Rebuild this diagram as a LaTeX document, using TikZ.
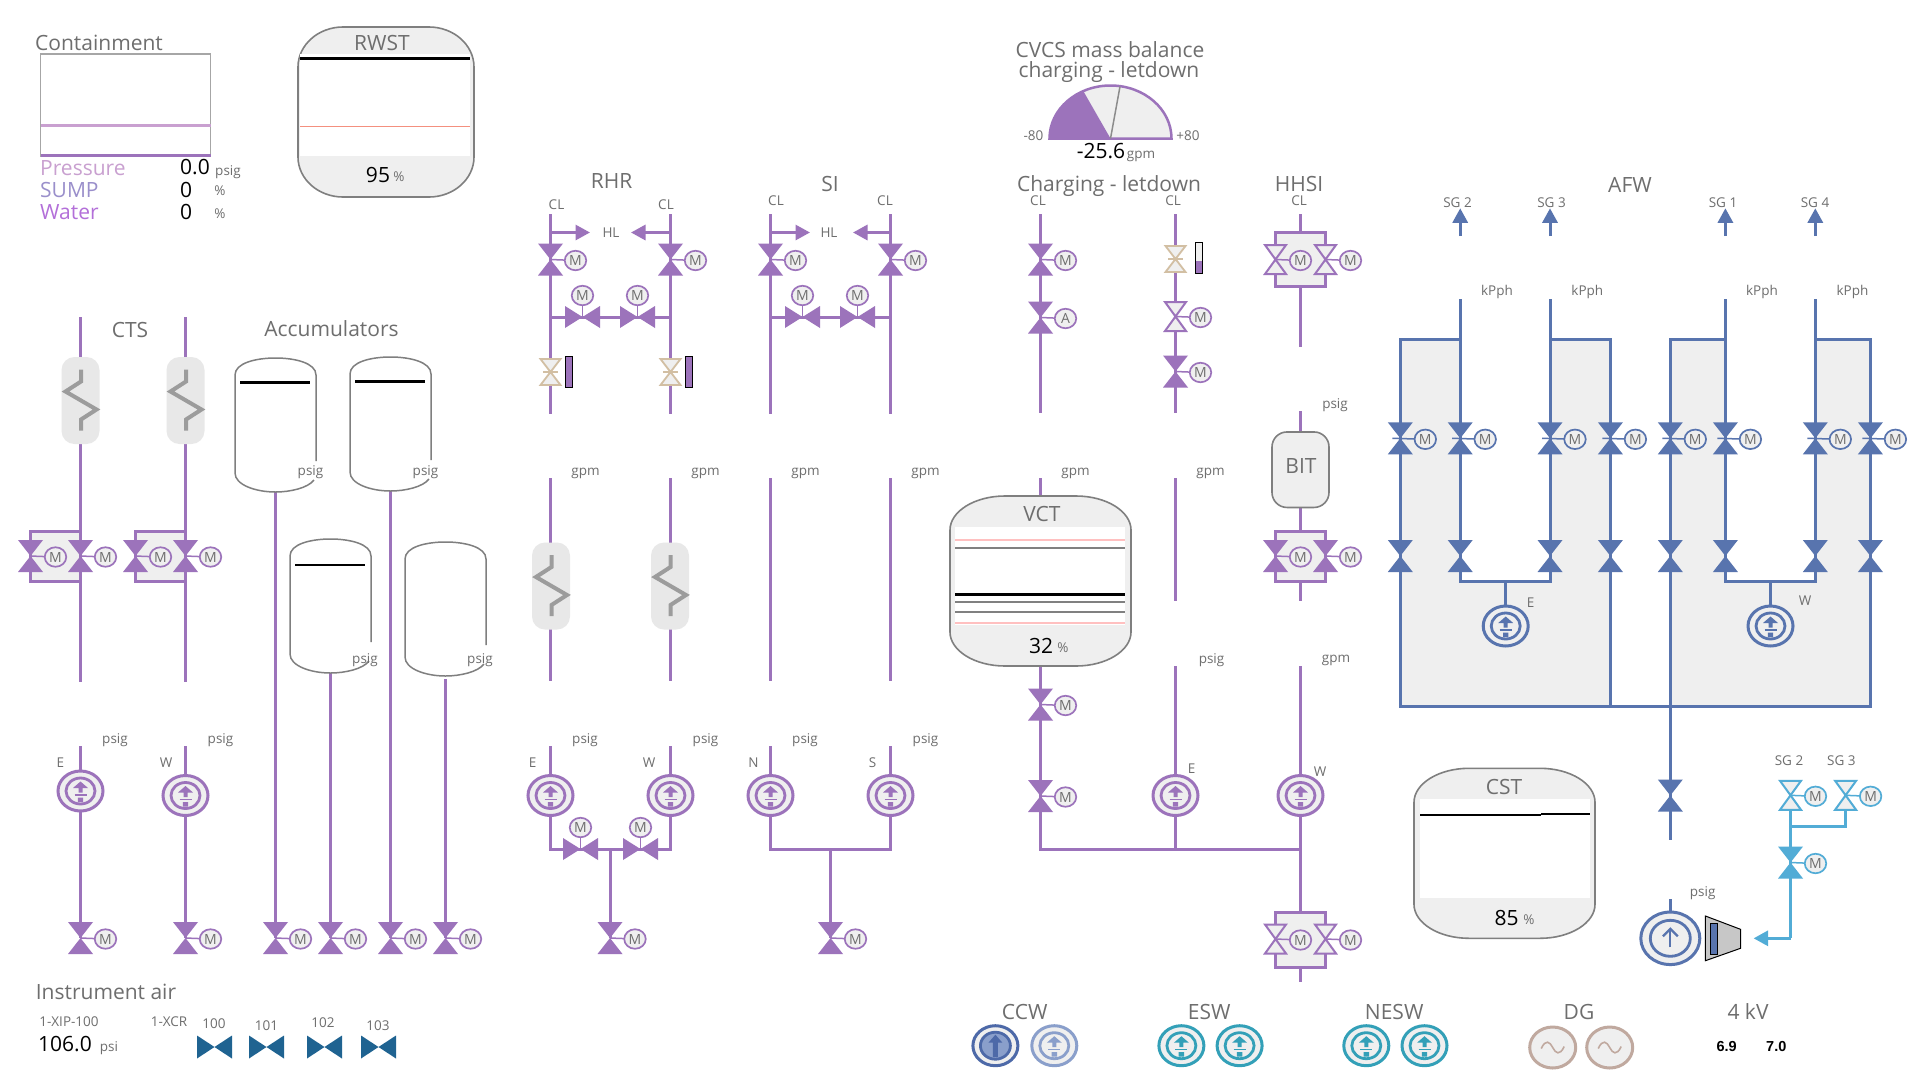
\documentclass[tikz,border=0pt]{standalone}
\usepackage{fontspec}
\setmainfont{Open Sans}
\newfontfamily\arialf{Liberation Sans}
\usetikzlibrary{shapes.geometric,arrows.meta,calc}
\definecolor{pur}{HTML}{9C73BB}
\definecolor{blu}{HTML}{5874AE}
\definecolor{sky}{HTML}{52ACD6}
\definecolor{tea}{HTML}{33A0B8}
\definecolor{dkb}{HTML}{4D69A8}
\definecolor{ltb}{HTML}{8A9FCB}
\definecolor{vgray}{HTML}{EFEFEF}
\definecolor{txt}{HTML}{6E6E6E}
\definecolor{tk}{HTML}{7F7F7F}
\definecolor{bge}{HTML}{D2BFA3}
\definecolor{brn}{HTML}{C0A99F}
\definecolor{bow}{HTML}{1F6391}
\definecolor{lpr}{HTML}{C9A0D0}
\definecolor{lsu}{HTML}{9A8FCB}
\definecolor{lwa}{HTML}{B36FD9}
\definecolor{salm}{HTML}{F4907F}
\definecolor{pnk}{HTML}{FFC0C0}
\tikzset{
 big/.style={text=txt,font=\fontsize{21}{24}\selectfont,inner sep=0pt},
 sm/.style={text=txt,font=\fontsize{13.5}{15}\selectfont,inner sep=0pt},
 val/.style={text=black,font=\fontsize{21}{24}\selectfont,inner sep=0pt},
 pp/.style={draw=pur,line width=3pt},
 bp/.style={draw=blu,line width=3pt},
 sp/.style={draw=sky,line width=3pt},
 mot/.style={ellipse,draw=#1,fill=vgray,line width=1.7pt,minimum width=21.5pt,minimum height=19.5pt,inner sep=0pt,outer sep=0pt,text=txt,font=\fontsize{14}{15}\selectfont},
 hxp/.style={rectangle,rounded corners=13pt,fill=black!9,minimum width=38pt,minimum height=87pt,inner sep=0pt},
 tank/.style={draw=tk,line width=1.6pt,fill=vgray},
 acc/.style={draw=tk,line width=1.5pt},
 arrh/.style={-{Triangle[length=14.5pt,width=15pt]}},
}
% valves
\newcommand{\vlvF}[2]{\fill[#1,shift={(#2)}] (-12.5,-16)--(12.5,-16)--(0,0)--cycle (-12.5,16)--(12.5,16)--(0,0)--cycle;}
\newcommand{\vlvO}[2]{\draw[draw=#1,fill=vgray,line width=2pt,shift={(#2)}] (-10.5,-14.5)--(10.5,-14.5)--(0,0)--(10.5,14.5)--(-10.5,14.5)--(0,0)--cycle;}
\newcommand{\vlvB}[1]{\draw[draw=bge,fill=vgray,line width=1.8pt,shift={(#1)}] (-10,-13)--(10,-13)--(0,0)--(10,13)--(-10,13)--(0,0)--cycle;
 \draw[draw=bge,line width=2pt,shift={(#1)}] (-7.5,0)--(7.5,0);}
\newcommand{\mtr}[3]{\node[mot=#1] (#2m) at ($(#2)+(25,1)$) {#3}; \draw[#1,line width=1.5pt] (#2) -- (#2m);}
\newcommand{\vm}[2]{\vlvF{#1}{#2}\mtr{#1}{#2}{M}}
\newcommand{\vo}[2]{\vlvO{#1}{#2}\mtr{#1}{#2}{M}}
\newcommand{\vma}[2]{\vlvF{#1}{#2}\node[mot=#1] (#2m) at ($(#2)+(25,1)$) {M}; \draw[#1,line width=1.5pt] ($(#2)+(-8,0)$) -- (#2m);}
\newcommand{\hvlv}[2]{\fill[#1,shift={(#2)}] (-17.5,-11)--(-17.5,11)--(0,0)--cycle (17.5,-11)--(17.5,11)--(0,0)--cycle;
 \node[mot=#1] (#2m) at ($(#2)+(0,-21.5)$) {M}; \draw[#1,line width=1.5pt] (#2) -- (#2m);}
% pumps
\newcommand{\pring}[4]{\node[ellipse,draw=#1,fill=vgray,line width=3pt,minimum width=#3pt,minimum height=#4pt,inner sep=0pt,outer sep=0pt] (#2) at (#2c) {};}
\newcommand{\pmp}[2]{\pring{#1}{#2}{45}{40}
 \draw[#1,line width=2.8pt,shift={(#2c)}] (0,0) ellipse[x radius=14.5pt,y radius=13pt];
 \fill[#1,shift={(#2c)}] (0,-9.5)--(7.5,-3)--(2,-3)--(2,1.5)--(-2,1.5)--(-2,-3)--(-7.5,-3)--cycle (-2.7,6.5) rectangle (2.7,11);
 \draw[#1,line width=1.3pt,shift={(#2c)}] (-6,4)--(6,4);}
\newcommand{\zig}[1]{\draw[draw=black!39,line width=4pt,shift={(#1)},line join=miter] (0.5,-31)--(0.5,-19)--(-15,-9)--(16,9)--(0.5,19)--(0.5,30);}
\newcommand{\bowt}[2]{\fill[bow,shift={(#2)}] (-17.5,-11.5)--(-17.5,11.5)--(0,0)--cycle (17.5,-11.5)--(17.5,11.5)--(0,0)--cycle;}
\newcommand{\rtank}[6]{\path[tank] ({#1+#5},#2) -- ({#3-#5},#2) .. controls ({#3-.45*#5},#2) and (#3,{#2+.45*#6}) .. (#3,{#2+#6})
 -- (#3,{#4-#6}) .. controls (#3,{#4-.45*#6}) and ({#3-.45*#5},#4) .. ({#3-#5},#4)
 -- ({#1+#5},#4) .. controls ({#1+.45*#5},#4) and (#1,{#4-.45*#6}) .. (#1,{#4-#6})
 -- (#1,{#2+#6}) .. controls (#1,{#2+.45*#6}) and ({#1+.45*#5},#2) .. ({#1+#5},#2) -- cycle;}
\newcommand{\accum}[2]{\draw[acc] ({#1+81},{#2+103}) -- ({#1+81},{#2+17}) .. controls ({#1+81},{#2+5}) and ({#1+60},#2) .. ({#1+40.5},#2)
 .. controls ({#1+21},#2) and (#1,{#2+5}) .. (#1,{#2+17}) -- (#1,{#2+115}) .. controls (#1,{#2+127}) and ({#1+21},{#2+134}) .. ({#1+40.5},{#2+134})
 .. controls ({#1+55},{#2+134}) and ({#1+73},{#2+130}) .. ({#1+79},{#2+122});}
\begin{document}
\begin{tikzpicture}[x=1pt,y=-1pt]
\useasboundingbox (0,0) rectangle (1920,1080);
\fill[white] (0,0) rectangle (1920,1080);
% ---------- coordinates
\foreach \n/\x/\y in {
 cTa/80.5/317,cBa/80.5/682,cTb/185.5/317,cBb/185.5/682,cVaL/30.5/556,cVaR/80.5/556,cVbL/135.5/556,cVbR/185.5/556,
 pEc/80.5/791,pWc/185.5/795.5,pEt/80.5/746,pWt/185.5/746,vE/80.5/938,vW/185.5/938,
 vAa/275.5/938,vAb/330.5/938,vAc/390.5/938,vAd/445.5/938,aTa/275.5/492,aTb/330.5/673,aTc/390.5/491,aTd/445.5/679,
 rTa/550.5/214,rBa/550.5/414,rTb/670.5/214,rBb/670.5/414,rVa/550.5/259.5,rVb/670.5/259.5,rHa/582.5/317,rHb/637.5/317,rJa/550.5/317,rJb/670.5/317,
 rLa/550.5/232.5,rLb/670.5/232.5,rTipa/590/232.5,rTipb/631/232.5,rBga/550.5/372,rBgb/670.5/372,
 sTa/770.5/214,sBa/770.5/414,sTb/890.5/214,sBb/890.5/414,sVa/770.5/259.5,sVb/890.5/259.5,sHa/802.5/317,sHb/857.5/317,sJa/770.5/317,sJb/890.5/317,
 sLa/770.5/232.5,sLb/890.5/232.5,sTipa/810/232.5,sTipb/853/232.5,
 mTa/550.5/478,mBa/550.5/681,mTb/670.5/478,mBb/670.5/681,mTc/770.5/478,mBc/770.5/681,mTd/890.5/478,mBd/890.5/681,
 pRac/550.5/795.5,pRbc/670.5/795.5,pRcc/770.5/795.5,pRdc/890.5/795.5,pRat/550.5/746,pRbt/670.5/746,pRct/770.5/746,pRdt/890.5/746,
 rHc/580.5/849,rHd/640.5/849,rK/610/849,rVc/610/938,sK/830.5/849,sVc/830.5/938,
 gTa/1040.5/214,gTb/1175.5/214,gTc/1300.5/214,gVa/1040.5/259.5,gVb/1040.5/317.5,gBa/1040.5/413,gBgb/1175.5/259,gVc/1175.5/316.5,gVd/1175.5/371.5,gBb/1175.5/413,
 hVa/1275.5/259.5,hVb/1325.5/259.5,hTb/1300.5/232,hBb/1300.5/286.5,hEnd/1300.5/347,
 bT/1300.5/411,bS/1300.5/432,bB/1300.5/507,hTc/1300.5/531,hBc/1300.5/581,hEndb/1300.5/601,hVc/1275.5/556,hVd/1325.5/556,
 vctT/1040.5/478,vctI/1040.5/496,vctO/1040.5/666,ltT/1175.5/478,ltB/1175.5/601,vC/1040.5/704.5,vD/1040.5/796,chA/1040.5/849,chB/1175.5/849,chC/1300.5/849,
 cTE/1175.5/666,cTW/1300.5/666,pCEc/1175.5/795.5,pCWc/1300.5/795.5,
 hTd/1300.5/912,hBd/1300.5/967,hEndc/1300.5/982,hVe/1275.5/939,hVf/1325.5/939,
 tGa/1460.2/236,tGb/1550/236,tGc/1725.4/236,tGd/1815.3/236,hGa/1460.2/208.3,hGb/1550/208.3,hGc/1725.4/208.3,hGd/1815.3/208.3,
 fTb/1460.2/299.3,fTc/1550/299.3,fTf/1725.4/299.3,fTg/1815.3/299.3,
 fCa/1400.3/339.3,fCb/1460.2/339.3,fCc/1550/339.3,fCd/1610.4/339.3,fCe/1670.3/339.3,fCf/1725.4/339.3,fCg/1815.3/339.3,fCh/1870.4/339.3,
 uA/1400.3/438.3,uB/1460.2/438.3,uC/1550/438.3,uD/1610.4/438.3,uE/1670.3/438.3,uF/1725.4/438.3,uG/1815.3/438.3,uH/1870.4/438.3,
 lA/1400.3/556,lB/1460.2/556,lC/1550/556,lD/1610.4/556,lE/1670.3/556,lF/1725.4/556,lG/1815.3/556,lH/1870.4/556,
 jB/1460.2/581,jC/1550/581,jF/1725.4/581,jG/1815.3/581,jX/1505.7/581,jY/1770.5/581,
 pAc/1505.7/626,pBc/1770.5/626,
 dA/1400.3/706,dD/1610.4/706,dE/1670.3/706,dH/1870.4/706,aDn/1670.3/840,aV/1670.3/795.5,
 gBigc/1670.3/938.3,gBigt/1670.3/899,
 sVm/1790.5/862.5,sVa2/1790.5/795.3,sVb2/1845.6/795.3,sK2/1790.5/826,sCor/1790.5/938.3,sTip/1753.6/938.3,
 pCaac/995.4/1045.7,pCabc/1054.3/1045.7,pEsac/1181.4/1045.7,pEsbc/1239.6/1045.7,pNsac/1366.3/1045.7,pNsbc/1424.5/1045.7,
 pDgac/1552.7/1047.5,pDgbc/1609.7/1047.5,
 hxa/80.5/400.5,hxb/185.5/400.5,hxc/551/586,hxd/670/586}
 {\coordinate (\n) at (\x,\y);}
% ---------- AFW gray areas
\fill[vgray] (fCa)--(fCb)--(jB)--(jC)--(fCc)--(fCd)--(dD)--(dA)--cycle;
\fill[vgray] (fCe)--(fCf)--(jF)--(jG)--(fCg)--(fCh)--(dH)--(dE)--cycle;
% ---------- bypass boxes
\draw[pp,fill=vgray] (30.5,531) rectangle (80.5,581);
\draw[pp,fill=vgray] (135.5,531) rectangle (185.5,581);
\draw[pp,fill=vgray] (1275.5,232) rectangle (1325.5,286.5);
\draw[pp,fill=vgray] (1275.5,531) rectangle (1325.5,581);
\draw[pp,fill=vgray] (1275.5,912) rectangle (1325.5,967);
% ---------- purple pipes
\foreach \a/\b in {cTa/cBa,cTb/cBb,pEt/vE,pWt/vW,aTa/vAa,aTb/vAb,aTc/vAc,aTd/vAd,rTa/rBa,rTb/rBb,rJa/rJb,sTa/sBa,sTb/sBb,sJa/sJb,
 mTa/mBa,mTb/mBb,mTc/mBc,mTd/mBd,pRat/pRac,pRbt/pRbc,pRct/pRcc,pRdt/pRdc,rK/rVc,sK/sVc,
 gTa/gBa,gTb/gBb,gTc/hTb,hBb/hEnd,bT/bS,bB/hTc,hBc/hEndb,vctT/vctI,ltT/ltB,cTE/chB,cTW/hTd,hBd/hEndc}
 {\draw[pp] (\a)--(\b);}
\draw[pp] (pRac) |- (rK) -| (pRbc);
\draw[pp] (pRcc) |- (sK) -| (pRdc);
\draw[pp] (vctO)--(chA)--(chC);
\draw[pp,arrh] (rLa)--(rTipa);
\draw[pp,arrh] (rLb)--(rTipb);
\draw[pp,arrh] (sLa)--(sTipa);
\draw[pp,arrh] (sLb)--(sTipb);
% ---------- blue pipes
\foreach \a/\b in {tGa/hGa,tGb/hGb,tGc/hGc,tGd/hGd}{\draw[bp,arrh] (\a)--(\b);}
\draw[bp] (fTb)--(jB)--(jC)--(fTc);
\draw[bp] (fTf)--(jF)--(jG)--(fTg);
\draw[bp] (fCb)--(fCa)--(dA)--(dH)--(fCh)--(fCg);
\draw[bp] (fCc)--(fCd)--(dD);
\draw[bp] (fCf)--(fCe)--(aDn);
\draw[bp] (jX)--(pAc);
\draw[bp] (jY)--(pBc);
\draw[bp] (gBigt)--(gBigc);
% ---------- light blue pipes
\draw[sp] (sVb2) |- (sK2);
\draw[sp] (sVa2)--(sVm)--(sCor);
\draw[sp,arrh] (sCor)--(sTip);
% ---------- heat exchangers
\foreach \h in {hxa,hxb,hxc,hxd}{\node[hxp] (\h n) at (\h) {}; \zig{\h}}
% ---------- accumulators
\accum{235}{358}\accum{350}{357}\accum{290}{539}\accum{405}{542}
\foreach \a/\x/\y in {1/240/382.5,2/355/381.5,3/295/565}{\draw[black,line width=2.3pt] (\x,\y)--(\x+70,\y);}
% ---------- containment
\draw[draw=black!35,line width=1.5pt] (40.5,54) rectangle (210.5,156);
\draw[draw=lpr,line width=2.5pt] (40.5,125.5)--(210.5,125.5);
\draw[draw=pur,line width=2.5pt] (40.5,155.5)--(210.5,155.5);
% ---------- tanks
\rtank{298}{27}{474}{197}{45}{40}
\fill[white] (300,54) rectangle (470,156);
\draw[black,line width=3pt] (300,58.5)--(470,58.5);
\draw[draw=salm,line width=1pt] (300,126.5)--(470,126.5);
\rtank{950}{496}{1131}{666}{55}{34}
\fill[white] (955,527) rectangle (1125,625);
\foreach \y/\c/\w in {540/pnk/2,548/black!50/1.5,594.5/black/3,602/black!50/1.5,612/black!50/1.5,623/pnk/2}
 {\draw[draw=\c,line width=\w pt] (955,\y)--(1125,\y);}
\rtank{1414}{768.3}{1595}{938.3}{55}{34}
\fill[white] (1420,799.3) rectangle (1590,897.7);
\draw[black,line width=2.3pt] (1420,815)--(1541,815);
\draw[black,line width=2.3pt] (1541,814)--(1590,814);
\node[rectangle,rounded corners=15pt,draw=tk,fill=vgray,line width=1.6pt,minimum width=57pt,minimum height=75.5pt,inner sep=0pt] (BIT) at (1300.5,469.7) {};
% ---------- gauge
\draw[draw=pur,line width=2.5pt,fill=vgray] (1049.5,138.5) arc[start angle=180,end angle=0,x radius=61pt,y radius=53pt] -- cycle;
\fill[pur] (1049.5,138.5) arc[start angle=180,end angle=116.5,x radius=61pt,y radius=53pt] -- (1110.5,138.5) -- cycle;
\draw[draw=black!45,line width=1.5pt] (1110.5,138.5)--(1120,86.5);
% ---------- valves with motors
\foreach \v in {cVaL,cVaR,cVbL,cVbR,vE,vW,vAa,vAb,vAc,vAd,rVa,rVb,sVa,sVb,rVc,sVc,gVa,gVd,hVc,hVd,vC,vD}{\vm{pur}{\v}}
\vlvF{pur}{gVb}\mtr{pur}{gVb}{A}
\foreach \v in {hVa,hVb,hVe,hVf,gVc}{\vo{pur}{\v}}
\foreach \v in {rHa,rHb,sHa,sHb,rHc,rHd}{\hvlv{pur}{\v}}
\foreach \v in {rBga,rBgb,gBgb}{\vlvB{\v}}
\draw[draw=black,fill=pur,line width=1pt] (565.5,356) rectangle (572,387);
\draw[draw=black,fill=pur,line width=1pt] (685.5,356) rectangle (692,387);
\draw[draw=black,fill=vgray,line width=1pt] (1195.5,242.5) rectangle (1202,273.5);
\fill[pur] (1196,261) rectangle (1201.5,273);
\foreach \v in {uA,uB,uC,uD,uE,uF,uG,uH}{\vma{blu}{\v}}
\foreach \v in {lA,lB,lC,lD,lE,lF,lG,lH,aV}{\vlvF{blu}{\v}}
\vm{sky}{sVm}
\vo{sky}{sVa2}
\vo{sky}{sVb2}
% ---------- pumps
\foreach \p in {pE,pW,pRa,pRb,pRc,pRd,pCE,pCW}{\pmp{pur}{\p}}
\pmp{blu}{pA}\pmp{blu}{pB}
\pmp{ltb}{pCab}
\pmp{tea}{pEsa}\pmp{tea}{pEsb}\pmp{tea}{pNsa}\pmp{tea}{pNsb}
% CCW running pump
\pring{dkb}{pCaa}{45}{40}
\draw[draw=dkb,fill=ltb,line width=2.8pt] (pCaac) ellipse[x radius=15pt,y radius=13.5pt];
\fill[dkb,shift={(pCaac)}] (0,-11)--(7,-3)--(2.5,-3)--(2.5,11.5)--(-2.5,11.5)--(-2.5,-3)--(-7,-3)--cycle;
% big AFW pump and turbine
\pring{blu}{gBig}{59}{52.5}
\draw[draw=blu,line width=2.8pt] (gBigc) ellipse[x radius=20pt,y radius=18pt];
\draw[draw=blu,line width=2.3pt] ($(gBigc)+(0,9)$)--($(gBigc)+(0,-9.5)$);
\draw[draw=blu,line width=2.3pt] ($(gBigc)+(-7.5,-2)$)--($(gBigc)+(0,-9.5)$)--($(gBigc)+(7.5,-2)$);
\draw[draw=black,fill=black!22,line width=1pt] (1705.4,916)--(1740.5,929.3)--(1740.5,948.3)--(1705.4,960.7)--cycle;
\draw[draw=black,fill=blu,line width=1pt] (1710.2,923.3) rectangle (1717.5,954.3);
% DG
\pring{brn}{pDga}{46}{41}
\pring{brn}{pDgb}{46}{41}
\foreach \p in {pDgac,pDgbc}{\draw[draw=brn,line width=1.6pt,shift={(\p)}] (-11.5,1) .. controls (-7,-8.5) and (-3,-6) .. (0,0) .. controls (3,6) and (7,8.5) .. (11.5,-1);}
% bowties
\bowt{bwa}{214.5,1047}\bowt{bwb}{266.5,1047}\bowt{bwc}{324.5,1047}\bowt{bwd}{378.5,1047}
% ---------- large labels
\foreach \n/\x/\y/\s in {lCon/99/43/Containment,lRwst/382/42.5/RWST,lCts/130/330/CTS,lAcc/331.5/329/Accumulators,lRhr/611.5/181/RHR,lSi/830/184/SI,
 lHh/1299/184/HHSI,lAfw/1630/185/AFW,lVct/1042/514/VCT,lCst/1504/786.7/CST,lIa/106/992/Instrument air,lCcw/1024.7/1011.5/CCW,lEsw/1209.3/1011.5/ESW,lNe/1394.2/1011.5/NESW,lDg/1579/1011.5/DG,lKv/1748/1011.5/4 kV,lBit/1301/466/BIT,
 lChg/1109/186/Charging - letdown,lCva/1110/50/CVCS mass balance,lCvb/1109/72.5/charging - letdown}
 {\node[big] (\n) at (\x,\y) {\s};}
\node[big,anchor=west,text=lpr] (lPr) at (40,168) {Pressure};
\node[big,anchor=west,text=lsu] (lSu) at (40,190) {SUMP};
\node[big,anchor=west,text=lwa] (lWa) at (40,212) {Water};
% ---------- values
\foreach \n/\x/\y/\s in {vPr/180/167.5/0.0,vSu/180/190/0,vWa/180/212/0,vIa/38/1044/106.0}
 {\node[val,anchor=west] (\n) at (\x,\y) {\s};}
\foreach \n/\x/\y/\s in {vRw/378/175/95,vVc/1041/646/32,vCs/1506.7/918.3/85,vGa/1101/151/-25.6}
 {\node[val] (\n) at (\x,\y) {\s};}
\node[text=black,font=\arialf\bfseries\fontsize{14.5}{17}\selectfont,inner sep=0pt] (kva) at (1726.7,1046.7) {6.9};
\node[text=black,font=\arialf\bfseries\fontsize{14.5}{17}\selectfont,inner sep=0pt] (kvb) at (1776.3,1046.7) {7.0};
% ---------- small labels
\foreach \n/\x/\y/\s in {
 ua/228/172/psig,ub/220/191/\%,uc/220/214/\%,ud/399/177/\%,ue/1063/648/\%,uf/1529/919.3/\%,ug/109/1048/psi,uh/1141/156/gpm,
 pa/310.5/472/psig,pb/425.5/472/psig,pc/365/660/psig,pd/480/660/psig,pe/115/740/psig,pf/220.5/740/psig,
 pg/585/740/psig,ph/705.5/740/psig,pi/805/740/psig,pj/925.5/740/psig,pk/1335/405/psig,pl/1211.5/660/psig,pm/1702.7/893/psig,
 ga/585.5/473/gpm,gb/705.5/473/gpm,gc/805.5/473/gpm,gd/925.5/473/gpm,ge/1075.5/473/gpm,gf/1210.5/473/gpm,gg/1336/660/gpm,
 ca/556.5/204.5/CL,cb/666/204.5/CL,cc/776/201/CL,cd/885/201/CL,ce/1038/201/CL,cf/1173/201/CL,cg/1299/201/CL,
 ha/611/233/HL,hb/829/233/HL,
 ea/60.5/763/E,eb/166/763/W,ec/532.5/763/E,ed/649/763/W,ee/753.5/763/N,ef/872.5/763/S,eg/1191.5/768.5/E,eh/1320/772/W,ei/1530.5/603/E,ej/1805/601/W,
 sa/1457.5/202.7/SG 2,sb/1551.5/202.7/SG 3,sc/1723/202.7/SG 1,sd/1815/202.7/SG 4,se/1789/760.7/SG 2,sf/1841.4/761/SG 3,
 ka/1497/292/kPph,kb/1587.3/292/kPph,kc/1762/292/kPph,kd/1852.5/292/kPph,
 ya/1033.5/135.5/-80,yb/1188/135.5/+80,
 ta/69/1022/1-XIP-100,tb/169/1022/1-XCR,tc/214/1024/100,td/266.5/1025.5/101,te/323/1022.5/102,tf/378/1026/103}
 {\node[sm] (\n) at (\x,\y) {\s};}
\end{tikzpicture}
\end{document}
